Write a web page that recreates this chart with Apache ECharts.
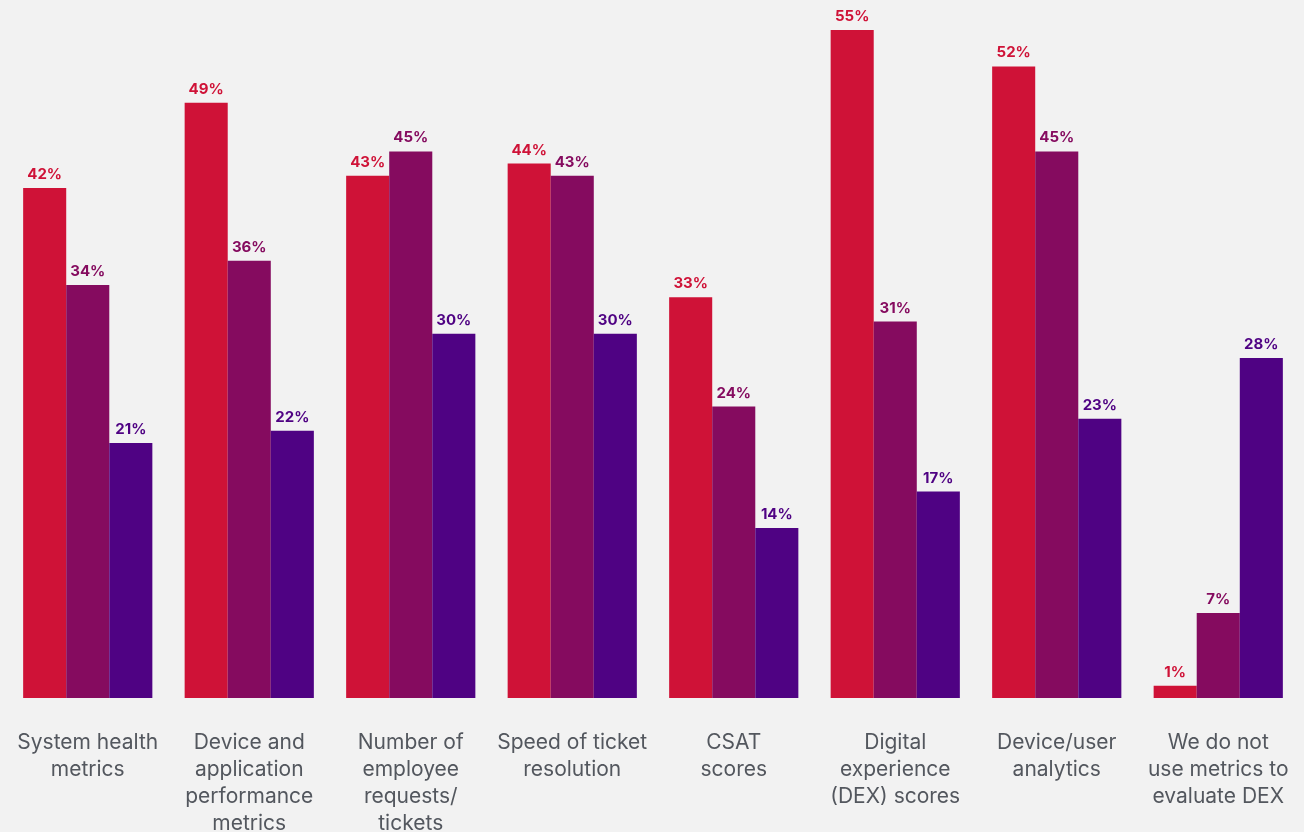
<!DOCTYPE html>
<html><head><meta charset="utf-8">
<script src="https://cdn.jsdelivr.net/npm/echarts@6/dist/echarts.min.js"></script>
<style>html,body{margin:0;padding:0;background:#f2f2f2;}#c{width:1304px;height:832px;}</style>
</head><body><div id="c"></div>
<script>
const categories = ["System health\nmetrics","Device and\napplication\nperformance\nmetrics","Number of\nemployee\nrequests/\ntickets","Speed of ticket\nresolution","CSAT\nscores","Digital\nexperience\n(DEX) scores","Device/user\nanalytics","We do not\nuse metrics to\nevaluate DEX"];
const seriesA = [42,49,43,44,33,55,52,1];
const seriesB = [34,36,45,43,24,31,45,7];
const seriesC = [21,22,30,30,14,17,23,28];
const colors = ['#cf1237','#850b5f','#4f0283'];
const chart = echarts.init(document.getElementById('c'));
function mk(data, color){
  return {type:'bar', data:data, barGap:'0%', barCategoryGap:'20%',
    itemStyle:{color:color},
    label:{show:true, position:'top', distance:6, formatter:'{c}%', color:color,
      fontFamily:'Inter', fontWeight:'bold', fontSize:15}};
}
chart.setOption({
  backgroundColor:'#f2f2f2',
  animation:false,
  grid:{left:7, right:5, top:30, bottom:134, containLabel:false, outerBoundsMode:'none'},
  xAxis:{type:'category', data:categories,
    axisLine:{show:false}, axisTick:{show:false},
    axisLabel:{interval:0, margin:31, color:'#53575e', fontFamily:'Inter', fontSize:21, lineHeight:27}},
  yAxis:{type:'value', min:0, max:55, show:false, splitLine:{show:false}},
  series:[mk(seriesA,colors[0]), mk(seriesB,colors[1]), mk(seriesC,colors[2])]
});
</script></body></html>
